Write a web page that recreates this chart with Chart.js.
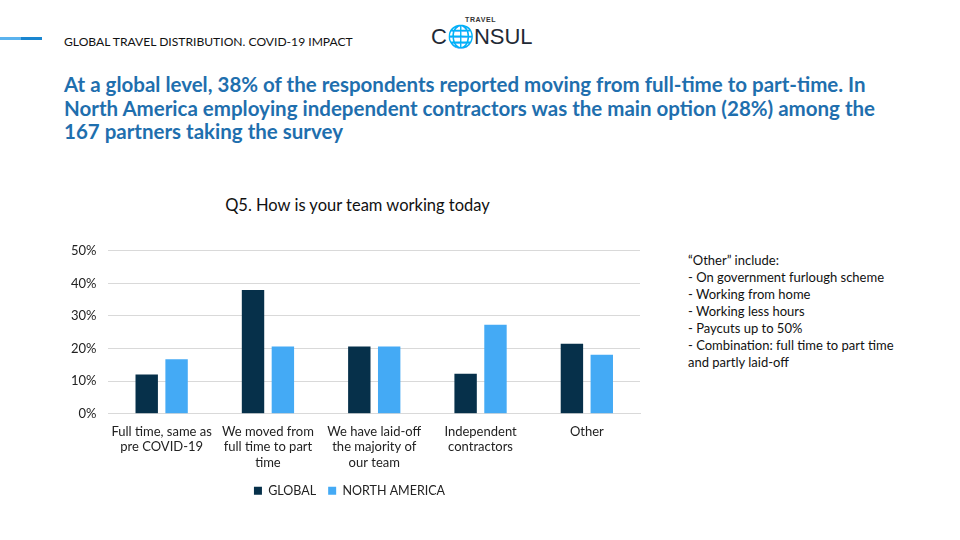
<!DOCTYPE html>
<html>
<head>
<meta charset="utf-8">
<script src="https://cdn.jsdelivr.net/npm/chart.js@4/dist/chart.umd.min.js"></script>
<style>
  html, body { margin:0; padding:0; background:#fff; width:960px; height:540px; overflow:hidden; font-family: Lato, "Open Sans", sans-serif; }
  .abs { position:absolute; }
  #bar1 { left:0; top:37px; width:21px; height:3px; background:#5bb3ee; }
  #bar2 { left:21px; top:37px; width:21px; height:3px; background:#1a86d0; }
  #sub { left:64px; top:34px; font-size:12.1px; color:#111; }
  #logo1 { left:465px; top:16px; font-size:7px; font-weight:bold; color:#333; letter-spacing:0.6px; font-family:"Liberation Sans", sans-serif; }
  #logo2 { left:431px; top:26px; font-size:22px; color:#1f2a36; font-family:"Liberation Sans", sans-serif; letter-spacing:0px; line-height:22px; }
  #logo2 .o { color:#2f78b8; }
  #head { left:64px; top:73px; font-size:20.5px; font-weight:bold; color:#1f6fae; line-height:23.5px; white-space:nowrap; }
  #title { left:224px; top:195px; width:267px; text-align:center; font-size:16.5px; color:#111; white-space:nowrap; }
  #note { left:688px; top:252px; font-size:13px; color:#111; line-height:17px; }
  #wrap { left:59px; top:231px; width:591px; height:276px; }
</style>
</head>
<body>
<div class="abs" id="bar1"></div><div class="abs" id="bar2"></div>
<div class="abs" id="sub">GLOBAL TRAVEL DISTRIBUTION. COVID-19 IMPACT</div>
<div class="abs" id="logo1">TRAVEL</div>
<div class="abs" id="logo2">C<span class="o">&#x1F310;</span>NSUL</div>
<div class="abs" id="head">At a global level, 38% of the respondents reported moving from full-time to part-time. In<br>North America employing independent contractors was the main option (28%) among the<br>167 partners taking the survey</div>
<div class="abs" id="title">Q5. How is your team working today</div>
<div class="abs" id="note">“Other” include:<br>- On government furlough scheme<br>- Working from home<br>- Working less hours<br>- Paycuts up to 50%<br>- Combination: full time to part time<br>and partly laid-off</div>
<div class="abs" id="wrap"><canvas id="c"></canvas></div>
<script>
const categories = [
  ["Full time, same as", "pre COVID-19"],
  ["We moved from", "full time to part", "time"],
  ["We have laid-off", "the majority of", "our team"],
  ["Independent", "contractors"],
  ["Other"]
];
const globalValues = [12.0, 38.0, 20.6, 12.3, 21.5];
const northAmericaValues = [16.7, 20.6, 20.6, 27.3, 18.1];
const yTicks = [0, 10, 20, 30, 40, 50];

Chart.defaults.font.family = "Lato, 'Open Sans', sans-serif";
Chart.defaults.color = "#222";

new Chart(document.getElementById('c'), {
  type: 'bar',
  data: {
    labels: categories,
    datasets: [
      { label: 'GLOBAL', data: globalValues, backgroundColor: '#06304a', categoryPercentage: 0.562, barPercentage: 0.75 },
      { label: 'NORTH AMERICA', data: northAmericaValues, backgroundColor: '#44aaf5', categoryPercentage: 0.562, barPercentage: 0.75 }
    ]
  },
  options: {
    responsive: true,
    maintainAspectRatio: false,
    animation: false,
    layout: { padding: { left: 0, right: 10, top: 6, bottom: 0 } },
    plugins: {
      title: { display: false },
      legend: { position: 'bottom', labels: { boxWidth: 8, boxHeight: 8, font: { size: 12.5 }, color: '#222', padding: 12 } },
      tooltip: { enabled: false }
    },
    scales: {
      x: {
        grid: { display: false },
        border: { color: '#d9d9d9' },
        ticks: { font: { size: 13 }, color: '#222', maxRotation: 0, autoSkip: false, padding: 2 }
      },
      y: {
        min: 0, max: 50,
        afterBuildTicks: (axis) => { axis.ticks = yTicks.map(v => ({ value: v })); },
        grid: { color: '#d9d9d9', drawTicks: false },
        border: { display: false },
        ticks: { font: { size: 13 }, color: '#222', padding: 12, callback: v => v + '%' }
      }
    }
  }
});
</script>
</body>
</html>
